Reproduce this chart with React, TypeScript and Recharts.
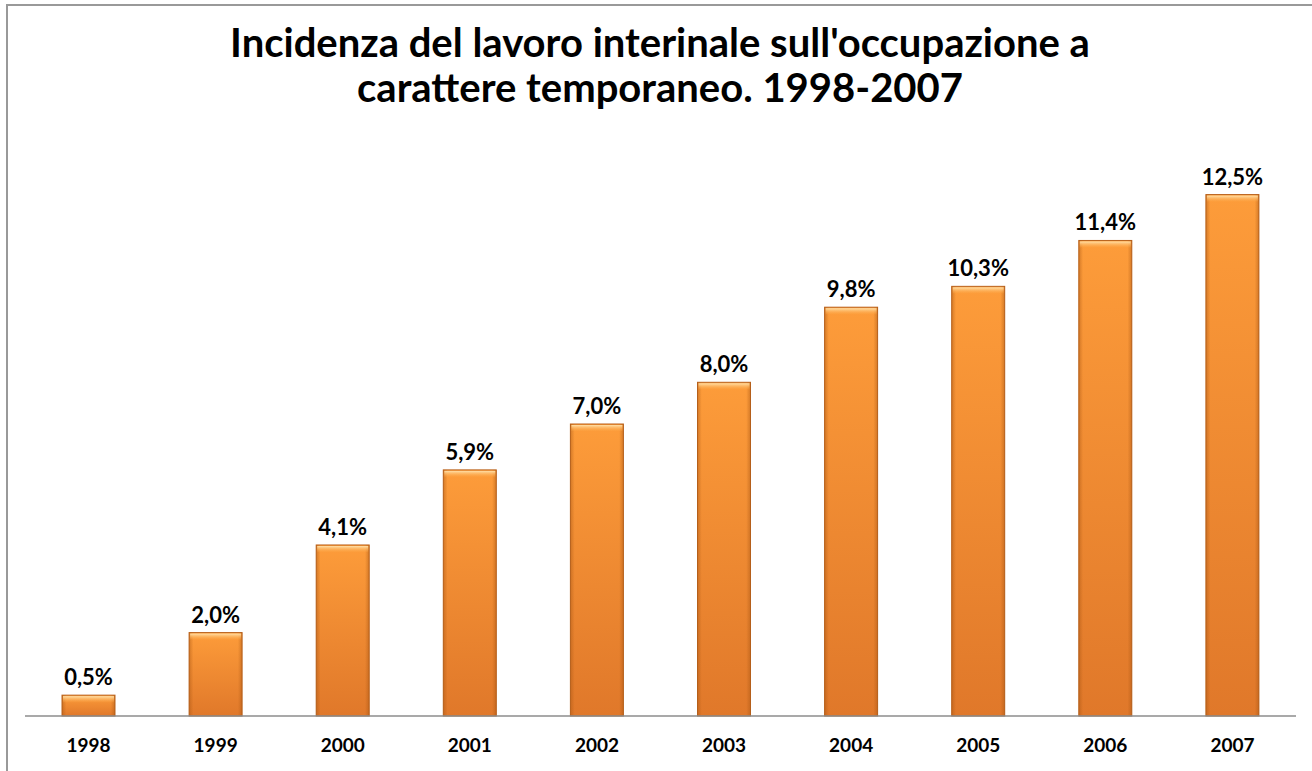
import { Bar, BarChart, LabelList, XAxis, YAxis } from "recharts";

const years = ["1998", "1999", "2000", "2001", "2002", "2003", "2004", "2005", "2006", "2007"];
const shares = [0.5, 2.0, 4.1, 5.9, 7.0, 8.0, 9.8, 10.3, 11.4, 12.5];

const titleLines = ["Incidenza del lavoro interinale sull'occupazione a", "carattere temporaneo. 1998-2007"];

const data = years.map((year, i) => ({ year, share: shares[i] }));

const font = "Lato, 'Open Sans', sans-serif";

const formatPct = (v: unknown) => `${Number(v).toFixed(1).replace(".", ",")}%`;

function BevelBar(props: any) {
  const { x, y, width, height } = props;
  if (!height || height <= 0) return null;
  const bevel = Math.min(6, height / 2);
  return (
    <g>
      <rect x={x} y={y} width={width} height={height} fill="url(#barBody)" stroke="#b9621c" strokeWidth={1} />
      <rect x={x} y={y} width={width} height={height} fill="url(#barEdges)" />
      <rect x={x + 1} y={y + 1} width={width - 2} height={bevel} fill="url(#barTop)" />
    </g>
  );
}

export default function App() {
  return (
    <div style={{ position: "absolute", left: 0, top: 0, width: 1312, height: 771, overflow: "hidden", background: "#fff" }}>
      <style>{"body{margin:0}"}</style>
      <div
        style={{
          position: "absolute",
          left: 6,
          top: 4,
          width: 1340,
          height: 820,
          border: "2px solid #999",
          boxSizing: "border-box",
        }}
      />
      <div
        style={{
          position: "absolute",
          left: 0,
          top: 20,
          width: 1320,
          textAlign: "center",
          fontFamily: font,
          fontWeight: 700,
          fontSize: 40,
          lineHeight: "45px",
          color: "#000",
        }}
      >
        {titleLines.map((line) => (
          <div key={line}>{line}</div>
        ))}
      </div>
      <div style={{ position: "absolute", left: 0, top: 0 }}>
        <BarChart width={1312} height={771} data={data} margin={{ top: 132, right: 16, bottom: 25, left: 25 }}>
          <defs>
            <linearGradient id="barBody" x1="0" y1="0" x2="0" y2="1">
              <stop offset="0%" stopColor="#fd9c3a" />
              <stop offset="100%" stopColor="#e0782a" />
            </linearGradient>
            <linearGradient id="barEdges" x1="0" y1="0" x2="1" y2="0">
              <stop offset="0%" stopColor="#a65412" stopOpacity={0.45} />
              <stop offset="8%" stopColor="#a65412" stopOpacity={0} />
              <stop offset="92%" stopColor="#a65412" stopOpacity={0} />
              <stop offset="100%" stopColor="#a65412" stopOpacity={0.45} />
            </linearGradient>
            <linearGradient id="barTop" x1="0" y1="0" x2="0" y2="1">
              <stop offset="0%" stopColor="#ffe0a8" />
              <stop offset="100%" stopColor="#fda848" stopOpacity={0.2} />
            </linearGradient>
          </defs>
          <XAxis
            dataKey="year"
            height={30}
            axisLine={{ stroke: "#8c8c8c", strokeWidth: 1.5 }}
            tickLine={false}
            tickMargin={17}
            tick={{ fill: "#000", fontSize: 19, fontWeight: 700, fontFamily: font }}
            interval={0}
          />
          <YAxis hide domain={[0, 14]} />
          <Bar dataKey="share" barSize={53} shape={<BevelBar />} isAnimationActive={false}>
            <LabelList
              dataKey="share"
              position="top"
              offset={10}
              formatter={formatPct}
              style={{ fill: "#000", fontSize: 22, fontWeight: 700, fontFamily: font }}
            />
          </Bar>
        </BarChart>
      </div>
    </div>
  );
}
